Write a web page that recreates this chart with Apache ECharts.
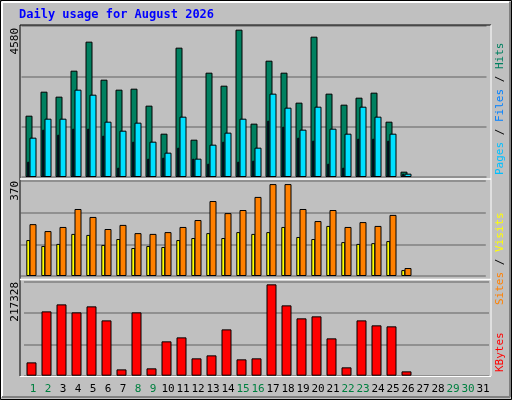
<!DOCTYPE html>
<html><head><meta charset="utf-8">
<script src="https://cdn.jsdelivr.net/npm/echarts@6/dist/echarts.min.js"></script>
<style>html,body{margin:0;padding:0;background:#c0c0c0}#c{width:512px;height:400px}</style>
</head><body><div id="c"></div>
<script>
const days = Array.from({length:31},(_,i)=>String(i+1));
const weekend = ['1','2','8','9','15','16','22','23','29','30'];
const hits  = [1860,2588,2437,3225,4105,2952,2649,2679,2164,1314,3923,1132,3164,2770,4469,1618,3528,3164,2255,4256,2528,2194,2406,2558,1678,162];
const files = [1193,1769,1769,2649,2497,1678,1405,1648,1072,738,1830,556,981,1345,1769,890,2528,2103,1436,2133,1466,1314,2133,1830,1314,101];
const pages = [465,1436,1284,1466,1466,1254,283,1072,556,586,890,556,404,1072,465,495,1709,1527,1193,1102,404,283,1163,1163,1102,101];
const visits= [202,175,191,261,230,183,199,167,164,171,191,218,292,245,257,308,358,358,261,214,257,191,210,195,238,31];
const sites = [140,117,125,164,160,121,144,109,117,113,140,148,167,148,171,164,171,191,152,144,195,132,125,128,136,23];
const kbytes= [30800,148700,164900,146400,160300,127900,14600,146400,17000,79400,88600,40100,47000,107100,37800,40100,211200,162600,132600,137200,86300,19300,127900,116400,114100,10000];
const maxHits=4580, maxVisits=370, maxKB=217328;

const panels=[{top:26,h:151},{top:181,h:95},{top:281.7,h:94}];
const W=465;
const grids=[], xs=[], ys=[], series=[];
function add(left,pi,max,data,color,bw,showGrid,showLabels){
  const i=grids.length;
  grids.push({left:left,top:panels[pi].top,width:W,height:panels[pi].h});
  xs.push({type:'category',data:days,gridIndex:i,boundaryGap:true,axisLine:{show:false},axisTick:{show:false},
    axisLabel:{show:!!showLabels,interval:0,margin:8,fontFamily:'DejaVu Sans Mono',fontSize:11,
      color:(v)=>weekend.includes(v)?'#008040':'#000'}});
  ys.push({type:'value',gridIndex:i,min:0,max:max,interval:max/3,axisLabel:{show:false},axisLine:{show:false},axisTick:{show:false},
    splitLine:{show:!!showGrid,lineStyle:{color:'#808080',width:1.5}}});
  if(data) series.push({type:'bar',xAxisIndex:i,yAxisIndex:i,data:data,barWidth:bw,animation:false,
    itemStyle:{color:color,borderColor:'#000',borderWidth:1}});
}
add(21.5,0,maxHits,hits,'#008060',7,true);
add(20.7,0,maxHits,pages,'#0040ff',2,false);
add(25.5,0,maxHits,files,'#00e0ff',7,false);
add(20.8,1,maxVisits,sites,'#ffff00',4,true);
add(25.5,1,maxVisits,visits,'#ff8000',7,false);
add(24,2,maxKB,kbytes,'#ff0000',10,true);
add(25.5,2,maxKB,null,null,0,false,true);

const mono='DejaVu Sans Mono';
function vtext(x,y,t,c){return {type:'text',x:x,y:y,rotation:Math.PI/2,style:{text:t,fill:c,font:'11px '+mono,textAlign:'left',textVerticalAlign:'middle'}};}
function ltext(x,y,t){return {type:'text',x:x,y:y,rotation:Math.PI/2,style:{text:t,fill:'#000',font:'11px '+mono,textAlign:'right',textVerticalAlign:'middle'}};}
const line=(x1,y1,x2,y2,c,w)=>({type:'line',shape:{x1,y1,x2,y2},style:{stroke:c,lineWidth:w||1},z:10});
const graphic=[
  {type:'rect',shape:{x:0.5,y:0.5,width:511,height:399},style:{fill:'none',stroke:'#000'},z:10},
  line(2,2,509,2,'#fff',2),line(2,2,2,397,'#fff',2),line(510,2,510,397,'#808080',2),line(2,397,510,397,'#808080',2),
  {type:'text',x:19,y:15,style:{text:'Daily usage for August 2026',fill:'#0000ff',font:'bold 12px '+mono,textVerticalAlign:'middle'}},
  line(20,25,491,25,'#000',1),line(20,25,20,376,'#000',1),line(491,25,491,376,'#fff',1),
  line(20,179,491,179,'#fff',1.5),line(20,279.5,491,279.5,'#fff',1.5),line(20,376.5,491,376.5,'#fff',1),
  ltext(15,28,'4580'),ltext(15,181,'370'),ltext(15,282,'217328'),
  {type:'text',x:500,y:28,rotation:-Math.PI/2,style:{rich:{a:{fill:'#00c0ff'},b:{fill:'#0080ff'},c:{fill:'#008060'},s:{fill:'#000'}},text:'{a|Pages}{s| / }{b|Files}{s| / }{c|Hits}',font:'11px '+mono,textAlign:'right',textVerticalAlign:'middle'}},
  {type:'text',x:500,y:185,rotation:-Math.PI/2,style:{rich:{a:{fill:'#ff8000'},b:{fill:'#ffff00'},s:{fill:'#000'}},text:'{a|Sites}{s| / }{b|Visits}',font:'11px '+mono,textAlign:'right',textVerticalAlign:'middle'}},
  {type:'text',x:500,y:340,rotation:-Math.PI/2,style:{text:'KBytes',fill:'#ff0000',font:'11px '+mono,textAlign:'right',textVerticalAlign:'middle'}}
];
// fix rotation direction for right labels: text reads bottom-to-top
graphic.slice(-3).forEach(g=>{g.rotation=Math.PI/2;g.style.textAlign='left';});
graphic[graphic.length-3].y=175; graphic[graphic.length-2].y=305; graphic[graphic.length-1].y=372;
graphic[graphic.length-3].style.textAlign='left';
const chart=echarts.init(document.getElementById('c'));
chart.setOption({backgroundColor:'#c0c0c0',animation:false,grid:grids,xAxis:xs,yAxis:ys,series:series,graphic:graphic});
</script></body></html>
